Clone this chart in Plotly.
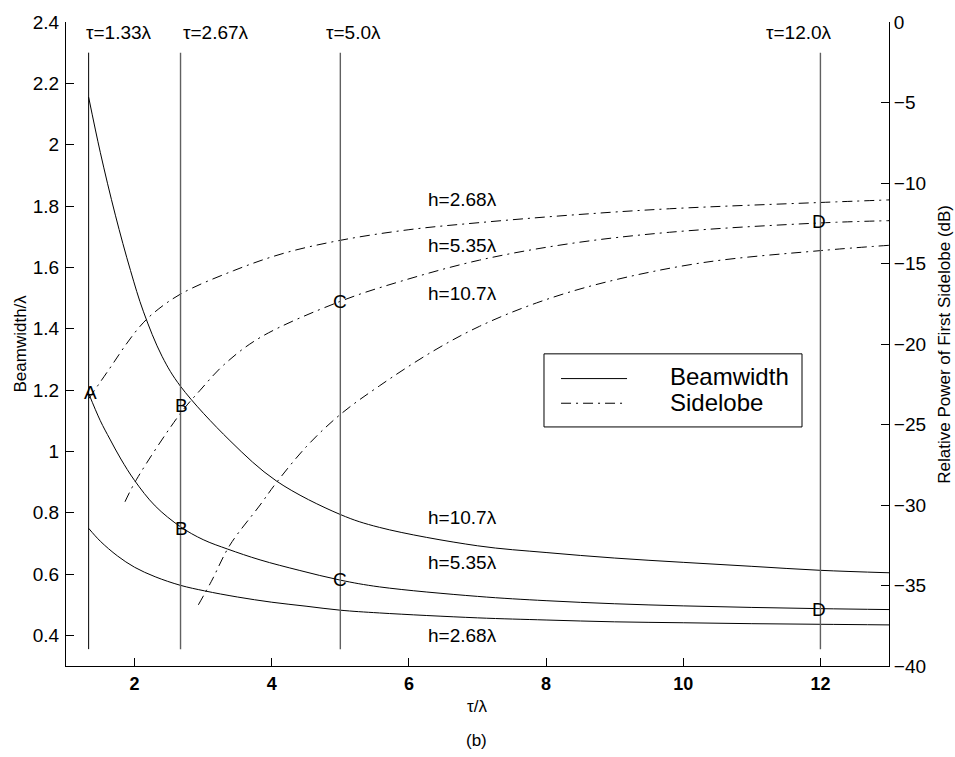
import plotly.graph_objects as go

# Beamwidth / lambda versus tau / lambda for three heights h
bw_h107_x = [1.33, 1.50, 1.72, 1.94, 2.13, 2.40, 2.67, 3.39, 4.07, 5.0, 5.57, 7.0, 8.0, 9.0, 10.0, 11.0, 12.0, 13.0]
bw_h107_y = [2.155, 1.975, 1.77, 1.59, 1.455, 1.31, 1.212, 1.035, 0.903, 0.794, 0.752, 0.692, 0.670, 0.652, 0.638, 0.625, 0.612, 0.604]

bw_h535_x = [1.33, 1.50, 1.64, 1.80, 2.0, 2.3, 2.67, 3.0, 3.36, 3.83, 4.4, 5.0, 5.57, 7.0, 8.0, 9.0, 10.0, 11.0, 12.0, 13.0]
bw_h535_y = [1.189, 1.10, 1.04, 0.975, 0.905, 0.822, 0.754, 0.712, 0.681, 0.646, 0.612, 0.580, 0.558, 0.527, 0.513, 0.503, 0.496, 0.491, 0.487, 0.484]

bw_h268_x = [1.33, 1.50, 1.75, 2.0, 2.3, 2.67, 3.02, 3.5, 4.0, 4.5, 5.0, 5.57, 7.0, 8.0, 9.0, 10.0, 11.0, 12.0, 13.0]
bw_h268_y = [0.749, 0.707, 0.659, 0.622, 0.591, 0.563, 0.545, 0.525, 0.508, 0.495, 0.482, 0.473, 0.457, 0.450, 0.444, 0.441, 0.438, 0.436, 0.434]

# Relative power of first sidelobe (dB)
sl_h268_x = [1.33, 1.64, 1.88, 2.08, 2.27, 2.67, 3.44, 4.17, 5.0, 6.0, 7.03, 8.34, 9.8, 12.0, 13.0]
sl_h268_y = [-23.4, -21.5, -20.0, -18.9, -18.1, -16.9, -15.45, -14.37, -13.56, -12.9, -12.46, -12.0, -11.6, -11.21, -11.05]

sl_h535_x = [1.86, 2.03, 2.67, 2.95, 3.3, 3.83, 5.0, 5.87, 7.03, 8.34, 9.8, 12.0, 13.0]
sl_h535_y = [-29.8, -28.4, -24.3, -22.9, -21.3, -19.6, -17.35, -16.12, -14.79, -13.77, -13.06, -12.48, -12.34]

sl_h107_x = [2.93, 3.12, 3.39, 3.83, 4.07, 4.51, 4.99, 5.57, 6.35, 7.03, 7.86, 8.83, 10.28, 12.0, 13.0]
sl_h107_y = [-36.2, -34.74, -32.49, -30.0, -28.6, -26.35, -24.41, -22.6, -20.45, -18.9, -17.45, -16.2, -14.95, -14.2, -13.87]

# Reference spacings tau (marked by vertical lines)
tau_marks = [1.33, 2.67, 5.0, 12.0]
tau_labels = ["τ=1.33λ", "τ=2.67λ", "τ=5.0λ", "τ=12.0λ"]
tau_label_x = [1.268, 2.677, 4.765, 11.173]

# Tick labels
left_ticks = [0.4, 0.6, 0.8, 1.0, 1.2, 1.4, 1.6, 1.8, 2.0, 2.2, 2.4]
left_ticktext = ["0.4", "0.6", "0.8", "1", "1.2", "1.4", "1.6", "1.8", "2", "2.2", "2.4"]
right_ticks = [0, -5, -10, -15, -20, -25, -30, -35, -40]
right_ticktext = ["0", "\u22125", "\u221210", "\u221215", "\u221220", "\u221225", "\u221230", "\u221235", "\u221240"]
x_ticks = [2, 4, 6, 8, 10, 12]

FONT = "Liberation Sans, Arial, Helvetica, sans-serif"
DASHDOT = "10px,5px,2px,5px"

fig = go.Figure()

solid = dict(color="black", width=1)
dashdot = dict(color="black", width=1, dash=DASHDOT)

for xs, ys in [(bw_h107_x, bw_h107_y), (bw_h535_x, bw_h535_y), (bw_h268_x, bw_h268_y)]:
    fig.add_trace(go.Scatter(x=xs, y=ys, mode="lines", line=dict(shape="spline", smoothing=1.0, **solid),
                             showlegend=False, hoverinfo="skip"))

for xs, ys in [(sl_h268_x, sl_h268_y), (sl_h535_x, sl_h535_y), (sl_h107_x, sl_h107_y)]:
    fig.add_trace(go.Scatter(x=xs, y=ys, mode="lines", yaxis="y2",
                             line=dict(shape="spline", smoothing=1.0, **dashdot),
                             showlegend=False, hoverinfo="skip"))

# Vertical marker lines
shapes = []
for i, t in enumerate(tau_marks):
    shapes.append(dict(type="line", xref="x", yref="y", x0=t, x1=t, y0=0.355, y1=2.3,
                       line=dict(color="black" if i == 0 else "#606060", width=1 if i == 0 else 1.4)))

# Legend box
shapes.append(dict(type="rect", xref="paper", yref="paper", x0=0.5808, x1=0.8943, y0=0.3712, y1=0.4847,
                   line=dict(color="black", width=1), fillcolor="white", layer="above"))
shapes.append(dict(type="line", xref="paper", yref="paper", x0=0.6015, x1=0.6817, y0=0.4463, y1=0.4463,
                   line=dict(color="black", width=1), layer="above"))
shapes.append(dict(type="line", xref="paper", yref="paper", x0=0.6015, x1=0.6817, y0=0.408, y1=0.408,
                   line=dict(color="black", width=1, dash=DASHDOT), layer="above"))

annotations = []
for lab, lx in zip(tau_labels, tau_label_x):
    annotations.append(dict(x=lx, y=2.366, xref="x", yref="y", text=lab, showarrow=False,
                            xanchor="left", yanchor="middle", font=dict(size=19)))

# Curve labels
curve_labels = [("h=2.68λ", 1.822), ("h=5.35λ", 1.672), ("h=10.7λ", 1.514),
                ("h=10.7λ", 0.783), ("h=5.35λ", 0.638), ("h=2.68λ", 0.400)]
for txt, yy in curve_labels:
    annotations.append(dict(x=6.25, y=yy, xref="x", yref="y", text=txt, showarrow=False,
                            xanchor="left", yanchor="middle", font=dict(size=19)))

# Point letters
letters = [("A", 1.364, 1.192), ("B", 2.68, 1.148), ("B", 2.68, 0.747), ("C", 4.99, 1.490),
           ("C", 4.99, 0.581), ("D", 11.98, 1.749), ("D", 11.98, 0.483)]
for txt, xx, yy in letters:
    annotations.append(dict(x=xx, y=yy, xref="x", yref="y", text=txt, showarrow=False,
                            xanchor="center", yanchor="middle", font=dict(size=19)))

# Legend texts
annotations.append(dict(x=0.7317, y=0.4494, xref="paper", yref="paper", text="Beamwidth", showarrow=False,
                        xanchor="left", yanchor="middle", font=dict(size=24)))
annotations.append(dict(x=0.7317, y=0.4095, xref="paper", yref="paper", text="Sidelobe", showarrow=False,
                        xanchor="left", yanchor="middle", font=dict(size=24)))

# Axis titles
annotations.append(dict(x=0.499, y=-0.0629, xref="paper", yref="paper", text="τ/λ", showarrow=False,
                        xanchor="center", yanchor="middle", font=dict(size=17)))
annotations.append(dict(x=0.499, y=-0.1158, xref="paper", yref="paper", text="(b)", showarrow=False,
                        xanchor="center", yanchor="middle", font=dict(size=17)))
annotations.append(dict(x=-0.0565, y=0.5, xref="paper", yref="paper", text="Beamwidth/λ", showarrow=False,
                        xanchor="center", yanchor="middle", textangle=-90, font=dict(size=17)))
annotations.append(dict(x=1.0665, y=0.5, xref="paper", yref="paper", text="Relative Power of First Sidelobe (dB)",
                        showarrow=False, xanchor="center", yanchor="middle", textangle=-90, font=dict(size=17)))

fig.update_layout(
    width=955, height=757,
    margin=dict(l=66, r=66, t=14, b=91),
    paper_bgcolor="white", plot_bgcolor="white",
    font=dict(family=FONT, color="black", size=17),
    showlegend=False,
    shapes=shapes,
    annotations=annotations,
    xaxis=dict(range=[1, 13], tickvals=x_ticks, ticks="inside", ticklen=8, tickcolor="black",
               showline=True, linecolor="black", linewidth=1, showgrid=False, zeroline=False,
               tickfont=dict(size=18, family="Liberation Sans, Arial", weight="bold"), ticklabelstandoff=1),
    yaxis=dict(range=[0.3, 2.4], tickvals=left_ticks, ticktext=left_ticktext, ticks="inside", ticklen=8,
               tickcolor="black", showline=True, linecolor="black", linewidth=1, showgrid=False,
               zeroline=False, tickfont=dict(size=19), ticklabelstandoff=2),
    yaxis2=dict(range=[-40, 0], overlaying="y", side="right", tickvals=right_ticks, ticktext=right_ticktext,
                ticks="inside", ticklen=8, tickcolor="black", showline=True, linecolor="black", linewidth=1,
                showgrid=False, zeroline=False, tickfont=dict(size=19), ticklabelstandoff=0),
)

fig.write_html("out.html")
